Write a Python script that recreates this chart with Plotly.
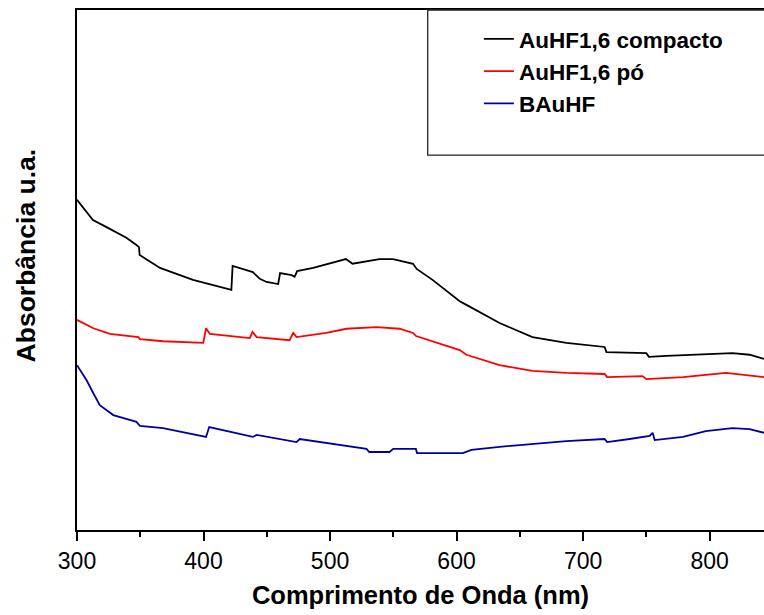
import plotly.graph_objects as go

# wavelength (nm) / absorbance (a.u.)
wl_compacto = [300, 312.6, 323, 339, 347, 349, 349.5, 365.6, 391.7, 418, 422, 423, 439, 444.5,
               449.8, 459, 460.5, 469.6, 472, 474, 486.7, 512.5, 517.8, 539, 549.8, 565.6,
               568.5, 581, 602.5, 607.8, 634, 660, 686.8, 717, 718.5, 750, 752, 765.8, 792,
               818, 831.6, 843]
abs_compacto = [0.635, 0.596, 0.583, 0.562, 0.548, 0.544, 0.529, 0.504, 0.481, 0.465, 0.462,
                0.508, 0.496, 0.483, 0.477, 0.473, 0.494, 0.490, 0.487, 0.498, 0.504, 0.521,
                0.512, 0.521, 0.521, 0.512, 0.502, 0.481, 0.440, 0.433, 0.398, 0.371, 0.360,
                0.352, 0.342, 0.340, 0.333, 0.335, 0.338, 0.340, 0.337, 0.329]

wl_po = [300, 312.9, 326, 348.5, 349.8, 368, 399.8, 402, 405, 436.6, 438.7, 442, 468, 470.9,
         473.5, 497, 513, 536.6, 555, 565.6, 568, 602.5, 607.8, 634, 660, 686.8, 717, 719,
         747, 750, 779, 813, 843]
abs_po = [0.404, 0.388, 0.377, 0.371, 0.367, 0.363, 0.360, 0.388, 0.377, 0.369, 0.381, 0.371,
          0.365, 0.379, 0.371, 0.379, 0.387, 0.390, 0.387, 0.379, 0.373, 0.346, 0.337, 0.317,
          0.306, 0.302, 0.300, 0.294, 0.296, 0.290, 0.294, 0.302, 0.294]

wl_bauhf = [300, 307.6, 312.9, 318, 328.7, 347, 349.8, 368, 402, 404.5, 439, 442, 473.5, 476,
            528.8, 531, 547, 550, 567.8, 568.8, 605, 611.7, 634, 660, 686.8, 717, 719, 736.8,
            752.6, 755, 756.6, 779, 797, 818, 831.6, 843]
abs_bauhf = [0.317, 0.288, 0.263, 0.240, 0.221, 0.208, 0.200, 0.196, 0.179, 0.198, 0.179,
             0.183, 0.169, 0.175, 0.156, 0.150, 0.150, 0.156, 0.156, 0.148, 0.148, 0.154,
             0.160, 0.165, 0.171, 0.175, 0.169, 0.175, 0.181, 0.187, 0.173, 0.179, 0.190,
             0.196, 0.194, 0.187]

FONT = "Liberation Sans, Arial, sans-serif"

series = [
    ("AuHF1,6 compacto", wl_compacto, abs_compacto, "#000000"),
    ("AuHF1,6 pó", wl_po, abs_po, "#FF0000"),
    ("BAuHF", wl_bauhf, abs_bauhf, "#0000A0"),
]

fig = go.Figure()
for name, x, y, color in series:
    fig.add_trace(go.Scatter(
        x=x, y=y, mode="lines", name=name, legendgroup=name,
        line=dict(color=color, width=1.8)
    ))

# legend frame (top right, cut by the page edge)
fig.add_shape(type="rect", xref="paper", yref="paper",
              x0=0.5105, x1=1.02, y0=0.721, y1=1.0, opacity=1, layer="above",
              line=dict(color="#222222", width=1.3), fillcolor="rgba(0,0,0,0)")

fig.add_annotation(
    text="<b>Absorbância u.a.</b>", xref="paper", yref="paper",
    x=-0.075, xanchor="center", y=0.529, yanchor="middle", textangle=-90, showarrow=False,
    font=dict(family=FONT, size=26.5, color="black")
)

fig.update_layout(
    width=764, height=615,
    template="simple_white",
    plot_bgcolor="white", paper_bgcolor="white",
    margin=dict(l=77, r=0, t=10, b=85, autoexpand=False),
    font=dict(family=FONT, color="black"),
    showlegend=True,
    legend=dict(
        x=0.585, y=0.985, xanchor="left", yanchor="top",
        bgcolor="rgba(0,0,0,0)", borderwidth=0,
        font=dict(family=FONT, size=22.5, color="black", weight="bold"),
        tracegroupgap=0
    ),
    xaxis=dict(
        range=[300, 843], tickvals=[300, 400, 500, 600, 700, 800],
        ticks="outside", ticklen=9, tickwidth=1.5, tickcolor="black",
        minor=dict(tickvals=[350, 450, 550, 650, 750], ticks="outside", ticklen=5, tickwidth=1.5, tickcolor="black"),
        showline=True, linewidth=2, linecolor="black", mirror=True,
        tickfont=dict(family=FONT, size=23),
        title=dict(text="<b>Comprimento de Onda (nm)</b>", font=dict(family=FONT, size=25.5), standoff=14),
        showgrid=False, zeroline=False, automargin=False
    ),
    yaxis=dict(
        range=[0, 1], showticklabels=False, ticks="",
        showline=True, linewidth=2, linecolor="black", mirror=False,
        showgrid=False, zeroline=False, automargin=False
    )
)

# drop the default 8px body margin so the figure fills the window exactly
fig.write_html("out.html", config={"displayModeBar": False},
               post_script="document.body.style.margin='0';")
